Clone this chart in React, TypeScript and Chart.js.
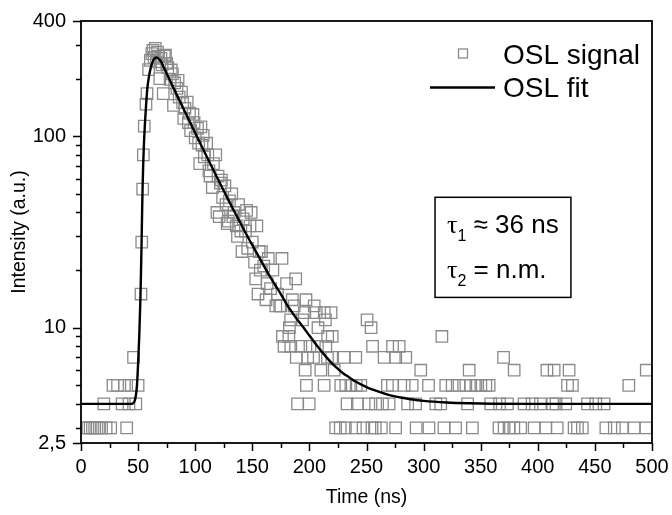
import React, { useEffect, useRef } from 'react';
import { Chart, registerables } from 'chart.js';

Chart.register(...registerables);

// ---- data ----
const signalTime = [
  4, 6, 8, 10, 12, 14, 16, 18, 20, 22, 26, 28, 32, 36, 38, 40, 42, 44, 46, 48, 50,
  52.5, 53.2, 54, 54.6, 55.4, 56.9, 57.8, 59.2, 60.7,
  62, 63, 64, 65, 66, 67, 68, 69, 70, 71, 72, 73, 74, 75, 76, 78, 79, 80, 81, 82, 84, 85, 86, 88, 89,
  90, 91, 93, 94, 95, 96, 98, 99, 100, 102, 103, 104, 105, 106, 107, 108, 110, 111, 112, 113, 115, 116,
  118, 119, 120, 121, 122, 123, 124, 126, 127, 128, 129, 130, 132, 133, 134, 136, 137, 138, 140, 141,
  142, 144, 145, 146, 148, 149, 150, 152, 153, 154, 155, 156, 157, 158, 160, 162, 163, 164, 166, 168,
  170.6, 172, 174, 175, 176, 176.4, 177.8, 180, 182, 182.5, 183.6, 183.7, 185, 186.7, 188, 188.5, 189.6,
  192.5, 194, 195.5, 196.3, 197, 197.4, 198.5, 199.8, 200.5, 203.6, 204.2, 206, 207, 207.5, 210, 212.9,
  213, 214, 214.4, 215.8, 216, 219, 219.6, 220, 221.7, 223, 227, 227.5, 230.4, 231.5, 231.9, 233, 236.3,
  240.3, 240.6, 241, 242, 245, 247, 250.5, 252, 254, 254.8, 255.3, 257.7, 258, 263, 264, 265.4, 268.3,
  269.8, 272.7, 272.8, 275.5, 275.6, 278.6, 283, 284.4, 286, 290, 293, 293.5, 297.5, 304.3, 304.7, 310.7,
  315, 316, 317.8, 319.4, 325, 328, 331, 337, 338.5, 339.9, 341.3, 342.7, 345.8, 350.1, 354.5, 357.4,
  358.8, 366, 366.5, 370, 370.5, 373.4, 374.8, 379, 379.3, 385, 388, 395, 396.8, 402.3, 407, 408, 413,
  414.3, 416, 417, 424.5, 426, 427.4, 430.3, 431.8, 434.7, 439, 443.5, 450.8, 458, 459.6, 467, 474,
  479.7, 484.4, 494.6, 495,
];
const signalCounts = [
  3, 3, 3, 3, 3, 3, 3, 3, 4, 3, 3, 5, 5, 4, 5, 3, 4, 5, 7, 4, 5,
  15, 28, 53, 80, 113, 147, 167, 223, 249,
  270, 281, 258, 288, 245, 275, 262, 200, 255, 236, 167, 262, 265, 240, 228, 198, 222, 212, 145, 190, 178, 196, 160, 170, 150,
  124, 140, 151, 118, 132, 107, 130, 118, 98, 110, 92, 72, 112, 90, 101, 78, 92, 80, 66, 62, 54, 72,
  80, 40, 62, 38, 57, 59, 48, 55, 44, 35, 36, 46, 50, 38, 40, 34, 30, 44, 32, 25,
  37, 32, 41, 26, 34, 40, 28, 22, 18, 34, 15, 25, 20, 25, 21, 14, 17, 23, 16, 20,
  13, 15, 13, 13, 23, 9, 8, 17, 9, 10, 11, 8, 14, 13, 18, 7, 4,
  8, 11, 12, 6, 14, 5, 7, 4, 8, 7, 13, 12, 8, 10, 6, 5,
  12, 11, 8, 7, 9, 12, 7, 9, 6, 3, 3, 5, 7, 3, 5, 4, 5,
  3, 7, 5, 4, 5, 3, 11, 4, 10, 3, 8, 3, 4, 3, 4, 7, 5,
  4, 5, 8, 3, 7, 8, 5, 7, 4, 5, 4, 3, 6, 5, 3, 4,
  4, 9, 3, 5, 5, 3, 5, 5, 4, 6, 5, 3, 5, 5, 5, 5,
  4, 3, 4, 7, 3, 4, 3, 3, 6, 3, 4, 4, 3, 4, 3, 6, 4,
  6, 4, 3, 4, 5, 6, 5, 3, 3, 3, 4, 4, 4, 3, 3, 3,
  5, 3, 3, 6,
];
const fitTime = [
  0, 44, 46, 47, 48, 49, 50, 51, 52, 52.5, 53, 53.5, 54, 54.5, 55, 55.5, 56, 57, 58, 59,
  60, 61, 62, 63, 64, 65, 66, 67, 68, 70, 72, 74, 76, 78, 80, 84, 88, 92, 96, 100,
  104, 108, 112, 116, 120, 124, 128, 132, 136, 140, 145, 150, 155, 160, 165, 170, 175, 180, 185, 190,
  195, 200, 205, 210, 215, 220, 225, 230, 235, 240, 250, 260, 270, 280, 290, 300, 320, 340, 360, 400,
  450, 500,
];
const fitValue = [
  4, 4, 4.05, 4.15, 4.4, 5, 6.5, 9, 14, 19, 27, 40, 56, 72, 88, 102, 117, 146, 176, 196,
  213, 227, 238, 247, 253, 257, 258, 257, 254, 246, 232, 219, 206.6, 195, 184, 164, 146.4, 130.6, 116.6, 104.1,
  93, 83.1, 74.3, 66.5, 59.6, 53.4, 47.9, 43, 38.7, 34.9, 30.6, 27, 23.9, 21.1, 18.7, 16.7, 15, 13.3, 12, 10.9,
  10, 9.1, 8.3, 7.6, 7.0, 6.5, 6.1, 5.75, 5.5, 5.25, 4.9, 4.65, 4.45, 4.32, 4.22, 4.15, 4.07, 4.03, 4.01, 4.0,
  4.0, 4.0,
];
const xTickValues = [0, 50, 100, 150, 200, 250, 300, 350, 400, 450, 500];
const xMinorTickValues = [25, 75, 125, 175, 225, 275, 325, 375, 425, 475];
const yTickValues = [2.5, 10, 100, 400];
const yTickLabels = ['2,5', '10', '100', '400'];
const yMinorTickValues = [3, 4, 5, 6, 7, 8, 9, 20, 30, 40, 50, 60, 70, 80, 90, 200, 300];
const seriesLabels = ['OSL signal', 'OSL fit'];
const xTitle = 'Time (ns)';
const yTitle = 'Intensity (a.u.)';
const tauLines = [
  { sym: 'τ', sub: '1', rest: ' ≈ 36 ns' },
  { sym: 'τ', sub: '2', rest: ' = n.m.' },
];
// annotation box corners in data coordinates
const tauBoxX = [310, 429];
const tauBoxY = [48, 14.4];

const SANS = '"Liberation Sans", Arial, sans-serif';
const SERIF = '"Liberation Serif", "Times New Roman", serif';
const GRAY = '#8a8a8a';

const decorPlugin = {
  id: 'decor',
  afterDatasetsDraw(chart: any) {
    const { ctx, chartArea: a, scales } = chart;
    const x = scales.x;
    const y = scales.y;
    ctx.save();
    // frame
    ctx.strokeStyle = '#000';
    ctx.lineWidth = 1.8;
    ctx.strokeRect(a.left, a.top, a.right - a.left, a.bottom - a.top);
    // ticks
    ctx.lineWidth = 1.5;
    ctx.beginPath();
    xTickValues.forEach((v) => {
      const p = Math.round(x.getPixelForValue(v)) + 0.5;
      ctx.moveTo(p, a.bottom);
      ctx.lineTo(p, a.bottom + 8);
    });
    xMinorTickValues.forEach((v) => {
      const p = Math.round(x.getPixelForValue(v)) + 0.5;
      ctx.moveTo(p, a.bottom);
      ctx.lineTo(p, a.bottom + 5);
    });
    yTickValues.forEach((v) => {
      const p = Math.round(y.getPixelForValue(v)) + 0.5;
      ctx.moveTo(a.left, p);
      ctx.lineTo(a.left - 8, p);
    });
    yMinorTickValues.forEach((v) => {
      const p = Math.round(y.getPixelForValue(v)) + 0.5;
      ctx.moveTo(a.left, p);
      ctx.lineTo(a.left - 5, p);
    });
    ctx.stroke();

    // legend
    const lx = a.right - 149;
    ctx.fillStyle = '#000';
    ctx.textBaseline = 'alphabetic';
    ctx.textAlign = 'left';
    ctx.font = `28px ${SANS}`;
    ctx.strokeStyle = GRAY;
    ctx.lineWidth = 1.3;
    ctx.strokeRect(lx - 44.5, a.top + 28, 9, 9);
    ctx.fillText(seriesLabels[0], lx, a.top + 43);
    ctx.strokeStyle = '#000';
    ctx.lineWidth = 2.5;
    ctx.beginPath();
    ctx.moveTo(lx - 73, a.top + 66.5);
    ctx.lineTo(lx - 8, a.top + 66.5);
    ctx.stroke();
    ctx.fillText(seriesLabels[1], lx, a.top + 76);

    // tau annotation box
    const bx0 = x.getPixelForValue(tauBoxX[0]);
    const bx1 = x.getPixelForValue(tauBoxX[1]);
    const by0 = y.getPixelForValue(tauBoxY[0]);
    const by1 = y.getPixelForValue(tauBoxY[1]);
    ctx.lineWidth = 1.5;
    ctx.strokeRect(bx0, by0, bx1 - bx0, by1 - by0);
    tauLines.forEach((ln, i) => {
      const base = by0 + 36 + i * 45;
      let cx = bx0 + 12;
      ctx.font = `26px ${SERIF}`;
      ctx.fillText(ln.sym, cx, base);
      cx += ctx.measureText(ln.sym).width;
      ctx.font = `16px ${SANS}`;
      ctx.fillText(ln.sub, cx, base + 8);
      cx += ctx.measureText(ln.sub).width;
      ctx.font = `26px ${SANS}`;
      ctx.fillText(ln.rest, cx, base);
    });
    ctx.restore();
  },
};

export default function App() {
  const ref = useRef<HTMLCanvasElement | null>(null);

  useEffect(() => {
    if (!ref.current) return;
    const chart = new Chart(ref.current, {
      type: 'scatter',
      data: {
        datasets: [
          {
            label: seriesLabels[1],
            data: fitTime.map((t, i) => ({ x: t, y: fitValue[i] })),
            showLine: true,
            borderColor: '#000',
            borderWidth: 2.4,
            pointRadius: 0,
            cubicInterpolationMode: 'monotone',
            fill: false,
          } as any,
          {
            label: seriesLabels[0],
            data: signalTime.map((t, i) => ({ x: t, y: signalCounts[i] })),
            showLine: false,
            pointStyle: 'rect',
            pointRadius: 8.1,
            pointBorderColor: GRAY,
            pointBackgroundColor: 'rgba(0,0,0,0)',
            pointBorderWidth: 1.3,
          } as any,
        ],
      },
      options: {
        animation: false,
        responsive: false,
        devicePixelRatio: 1,
        layout: { padding: { left: 0, right: 20, top: 21, bottom: 0 } },
        plugins: { legend: { display: false }, tooltip: { enabled: false } },
        scales: {
          x: {
            type: 'linear',
            min: 0,
            max: 500,
            afterBuildTicks: (s: any) => {
              s.ticks = xTickValues.map((v) => ({ value: v }));
            },
            afterFit: (s: any) => {
              s.height = 72;
            },
            ticks: {
              color: '#000',
              font: { family: SANS, size: 20 },
              padding: 0,
              maxRotation: 0,
              autoSkip: false,
              callback: (v: any) => String(v),
            },
            grid: { display: false, drawTicks: true, tickLength: 12 },
            border: { display: false },
            title: {
              display: true,
              text: xTitle,
              color: '#000',
              font: { family: SANS, size: 19.5 },
              padding: { top: 0, bottom: 6 },
            },
          },
          y: {
            type: 'logarithmic',
            min: 2.5,
            max: 400,
            afterBuildTicks: (s: any) => {
              s.ticks = yTickValues.map((v) => ({ value: v }));
            },
            afterFit: (s: any) => {
              s.width = 81;
            },
            ticks: {
              color: '#000',
              font: { family: SANS, size: 20 },
              padding: 0,
              autoSkip: false,
              callback: (v: any) => {
                const i = yTickValues.indexOf(Number(v));
                return i >= 0 ? yTickLabels[i] : '';
              },
            },
            grid: { display: false, drawTicks: true, tickLength: 15 },
            border: { display: false },
            title: {
              display: true,
              text: yTitle,
              color: '#000',
              font: { family: SANS, size: 19.5 },
              padding: { top: 8, bottom: 0 },
            },
          },
        },
      },
      plugins: [decorPlugin],
    } as any);
    return () => chart.destroy();
  }, []);

  return (
    <div style={{ position: 'absolute', left: 0, top: 0, width: 672, height: 515, background: '#fff' }}>
      <canvas ref={ref} width={672} height={515} />
    </div>
  );
}
